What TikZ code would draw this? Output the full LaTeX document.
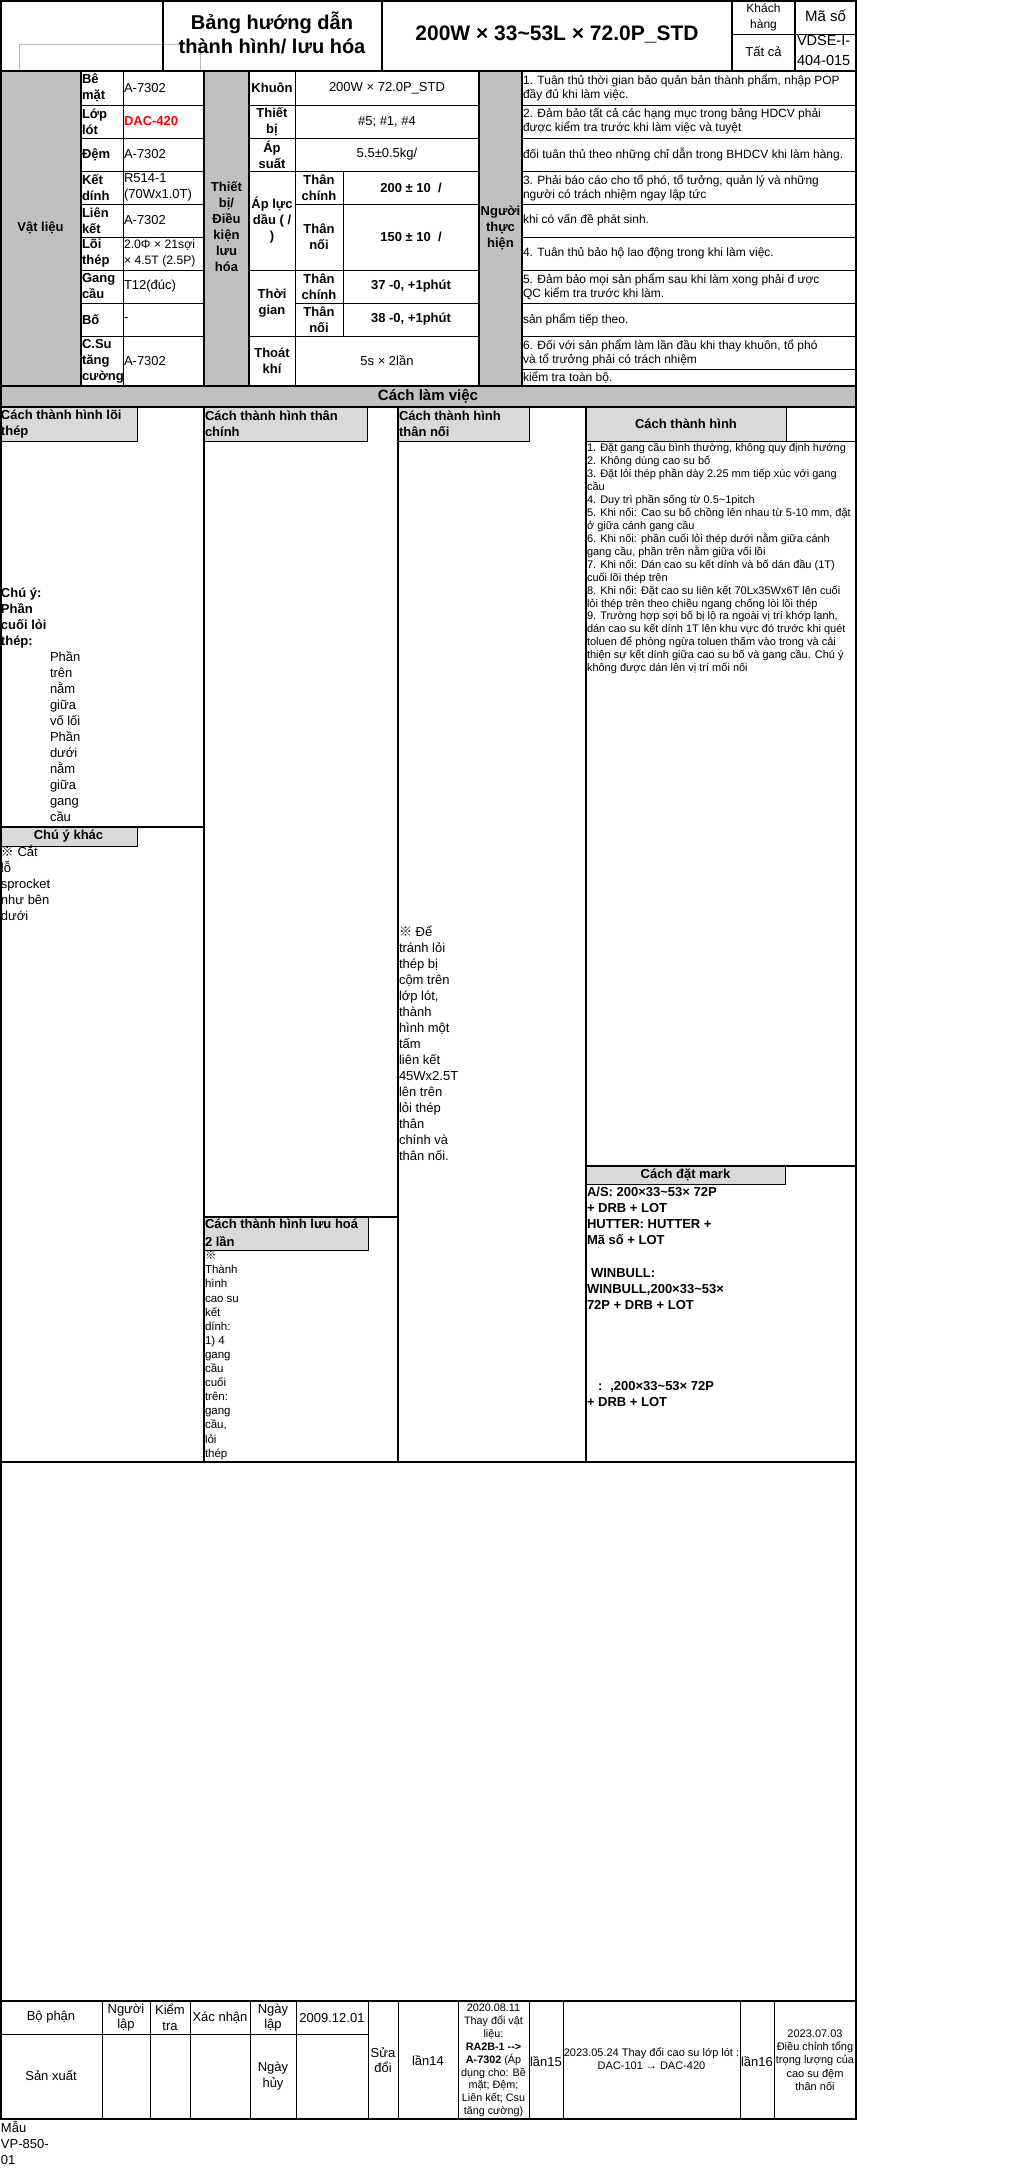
\documentclass[tikz,border=0pt]{standalone}
\usepackage{fontspec}
\setmainfont{Liberation Sans}
\newfontfamily\cjkf{Noto Sans CJK JP}
\newcommand\refmark{{\cjkf ※}}
\definecolor{gdark}{RGB}{192,192,192}
\definecolor{glight}{RGB}{217,217,217}
\definecolor{grline}{RGB}{185,185,185}
\newcommand\stk[6]{\foreach \myline [count=\myi from 0] in {#6} {\node[T,anchor=base west,#5] (#1\myi) at (#2,{#3+\myi*#4}) {\myline};}}
\begin{document}
\begin{tikzpicture}[x=1pt,y=-1pt,
 T/.style={inner sep=0pt,outer sep=0pt},
 lwa/.style={line width=1pt},
 lwb/.style={line width=2pt},
 fa/.style={font=\fontsize{13}{16}\selectfont},
 fab/.style={font=\fontsize{13}{16}\selectfont\bfseries},
 fr/.style={font=\fontsize{12}{14}\selectfont},
 fs/.style={font=\fontsize{11}{13}\selectfont},
 fss/.style={font=\fontsize{11.5}{14.1}\selectfont},
 fb/.style={font=\fontsize{13}{15.5}\selectfont},
 fsm/.style={font=\fontsize{11}{13.3}\selectfont},
 fsn/.style={font=\fontsize{10.8}{12.9}\selectfont},
 ctr/.style={T,align=center,anchor=center},
 lft/.style={T,align=left,anchor=west},
]
\useasboundingbox (0,0) rectangle (1024,2169);
\fill[white] (0,0) rectangle (1024,2169);
% ---------- fills
\fill[gdark] (0,71) rectangle (81,386);
\fill[gdark] (204,71) rectangle (249,386);
\fill[gdark] (479,71) rectangle (522,386);
\fill[gdark] (0,386) rectangle (856,407);
\filldraw[fill=glight,lwa] (0,407) rectangle (137,441);
\filldraw[fill=glight,lwa] (204,407) rectangle (367,441);
\filldraw[fill=glight,lwa] (398,407) rectangle (529,441);
\filldraw[fill=glight,lwa] (586,407) rectangle (786,441);
\draw[lwa] (786,441) -- (856,441);
\filldraw[fill=glight,lwa] (0,827) rectangle (137,846);
\filldraw[fill=glight,lwa] (204,1217) rectangle (368,1250);
\filldraw[fill=glight,lwa] (586,1166) rectangle (785,1184);
% ---------- header
\draw[grline,lwa] (19,71) -- (19,44) -- (200,44) -- (200,71);
\draw[lwb] (163,1) -- (163,71) (382,1) -- (382,71);
\draw[line width=1.5pt] (732,1) -- (732,71) (795,1) -- (795,71);
\draw[lwa] (732,34) -- (856,34);
% ---------- upper table lines
\foreach \yy in {105,138,171,204,237,270,303,336} \draw[lwa] (81,\yy) -- (204,\yy);
\foreach \yy in {105,138,171,270,336} \draw[lwa] (249,\yy) -- (479,\yy);
\foreach \yy in {204,303} \draw[lwa] (295,\yy) -- (479,\yy);
\foreach \yy in {105,138,171,204,237,270,303,336,369} \draw[lwa] (522,\yy) -- (856,\yy);
\draw[lwa] (123,71) -- (123,386) (295,71) -- (295,386) (343,171) -- (343,336);
\foreach \xx in {81,204,249,479,522} \draw[lwb] (\xx,71) -- (\xx,386);
\foreach \yy in {71,386,407} \draw[lwb] (0,\yy) -- (856,\yy);
% ---------- working section lines
\foreach \xx in {204,398,586} \draw[lwb] (\xx,407) -- (\xx,1462);
\draw[lwb] (0,827) -- (204,827) (204,1217) -- (398,1217) (586,1166) -- (856,1166) (0,1462) -- (856,1462);
% ---------- bottom table lines
\draw[lwb] (0,2001) -- (856,2001);
\draw[lwa] (0,2034) -- (368,2034);
\foreach \xx in {102,150,190,250,296,368,398,458,529,563,740,774} \draw[lwa] (\xx,2001) -- (\xx,2119);
% ---------- outer frame
\draw[lwb] (1,1) rectangle (856,2119);
% ---------- header texts
\node[ctr,font=\fontsize{20}{24}\selectfont\bfseries] (title) at (272,33) {Bảng hướng dẫn\\thành hình/ lưu hóa};
\node[ctr,font=\fontsize{21}{24}\selectfont\bfseries] (model) at (557,34) {200W × 33\textasciitilde53L × 72.0P\_STD};
\node[ctr,font=\fontsize{12}{16}\selectfont] (kh) at (763.5,17) {Khách\\hàng};
\node[ctr,font=\fontsize{15}{18}\selectfont] (ms) at (825.5,16) {Mã số};
\node[ctr,fa] (tc) at (763.5,52) {Tất cả};
\node[lft,font=\fontsize{14.5}{20}\selectfont] (code) at (797,51) {VDSE-I-\\404-015};
% ---------- materials
\node[ctr,fab] (vl) at (40.5,228) {Vật liệu};
\node[lft,fab] (l1) at (82,88) {Bê\\mặt};
\node[lft,fab] (l2) at (82,121.5) {Lớp\\lót};
\node[lft,fab] (l3) at (82,154.5) {Đệm};
\node[lft,fab] (l4) at (82,187.5) {Kết\\dính};
\node[lft,fab] (l5) at (82,220.5) {Liên\\kết};
\node[lft,fab] (l6) at (82,253.5) {Lõi\\thép};
\node[lft,fab] (l7) at (82,286.5) {Gang\\cầu};
\node[lft,fab] (l8) at (82,319.5) {Bố};
\node[lft,fab] (l9) at (82,361) {C.Su\\tăng\\cường};
\node[lft,fa] (v1) at (124,88) {A-7302};
\node[lft,fab,text=red] (v2) at (124,121.5) {DAC-420};
\node[lft,fa] (v3) at (124,154.5) {A-7302};
\node[lft,fa] (v4) at (124,187.5) {R514-1\\(70Wx1.0T)};
\node[lft,fa] (v5) at (124,220.5) {A-7302};
\node[lft,font=\fontsize{12.2}{16}\selectfont] (v6) at (124,253.5) {2.0Φ × 21sợi\\× 4.5T (2.5P)};
\node[lft,fa] (v7) at (124,286.5) {T12(đúc)};
\node[lft,fa] (v8) at (124,319.5) {-};
\node[lft,fa] (v9) at (124,361) {A-7302};
% ---------- equipment / conditions
\node[ctr,fab] (tb) at (226.5,227) {Thiết\\bị/\\Điều\\kiện\\lưu\\hóa};
\node[ctr,fab] (m1) at (272,88) {Khuôn};
\node[ctr,fab] (m2) at (272,121.5) {Thiết\\bị};
\node[ctr,fab] (m3) at (272,154.5) {Áp\\suất};
\node[ctr,fab] (m4) at (272,220.5) {Áp lực\\dầu ( /\\)};
\node[ctr,fab] (m5) at (272,303) {Thời\\gian};
\node[ctr,fab] (m6) at (272,361) {Thoát\\khí};
\node[ctr,fab] (s1) at (319,187.5) {Thân\\chính};
\node[ctr,fab] (s2) at (319,237) {Thân\\nối};
\node[ctr,fab] (s3) at (319,286.5) {Thân\\chính};
\node[ctr,fab] (s4) at (319,319.5) {Thân\\nối};
\node[ctr,fa] (w1) at (387,88) {200W × 72.0P\_STD};
\node[ctr,fa] (w2) at (387,121.5) {\#5; \#1, \#4};
\node[ctr,fa] (w3) at (387,154.5) {5.5±0.5kg/};
\node[ctr,fab] (w4) at (411,187.5) {200 ± 10\ \ /};
\node[ctr,fab] (w5) at (411,237) {150 ± 10\ \ /};
\node[ctr,fab] (w6) at (411,286.5) {37 -0, +1phút};
\node[ctr,fab] (w7) at (411,319.5) {38 -0, +1phút};
\node[ctr,fa] (w8) at (387,361) {5s × 2lần};
% ---------- operator rules
\node[ctr,fab] (nth) at (500.5,228) {Người\\thực\\hiện};
\node[lft,fr] (r1) at (523,88) {1. Tuân thủ thời gian bảo quản bản thành phẩm, nhập POP\\đầy đủ khi làm việc.};
\node[lft,fr] (r2) at (523,121.5) {2. Đảm bảo tất cả các hạng mục trong bảng HDCV phải\\được kiểm tra trước khi làm việc và tuyệt};
\node[lft,fr] (r3) at (523,154.5) {đối tuân thủ theo những chỉ dẫn trong BHDCV khi làm hàng.};
\node[lft,fr] (r4) at (523,187.5) {3. Phải báo cáo cho tổ phó, tổ tưởng, quản lý và những\\người có trách nhiệm ngay lập tức};
\node[lft,fr] (r5) at (523,220.5) {khi có vấn đề phát sinh.};
\node[lft,fr] (r6) at (523,253.5) {4. Tuân thủ bảo hộ lao động trong khi làm việc.};
\node[lft,fr] (r7) at (523,286.5) {5. Đảm bảo mọi sản phẩm sau khi làm xong phải đ ược\\QC kiểm tra trước khi làm.};
\node[lft,fr] (r8) at (523,319.5) {sản phẩm tiếp theo.};
\node[lft,fr] (r9) at (523,352.5) {6. Đối với sản phẩm làm lần đầu khi thay khuôn, tổ phó\\và tổ trưởng phải có trách nhiệm};
\node[lft,fr] (r10) at (523,377.5) {kiểm tra toàn bộ.};
% ---------- working method
\node[ctr,font=\fontsize{15}{18}\selectfont\bfseries] (clv) at (428,396.5) {Cách làm việc};
\node[lft,fab] (h1) at (1,424) {Cách thành hình lõi\\thép};
\node[lft,fab] (h2) at (205,424) {Cách thành hình thân\\chính};
\node[lft,fab] (h3) at (399,424) {Cách thành hình\\thân nối};
\node[ctr,fab] (h4) at (686,424) {Cách thành hình};
\stk{li}{587}{451.5}{12.96}{fs}{1. Đặt gang cầu bình thường{,} không quy định hướng,2. Không dùng cao su bố,3. Đặt lỏi thép phần dày 2.25 mm tiếp xúc với gang,cầu,4. Duy trì phần sống từ 0.5\textasciitilde1pitch,{5. Khi nối: Cao su bố chồng lên nhau từ 5-10 mm, đặt},ở giữa cánh gang cầu,6. Khi nối: phần cuối lỏi thép dưới nằm giữa cánh,{gang cầu, phần trên nằm giữa vối lồi},7. Khi nối: Dán cao su kết dính và bố dán đầu (1T),cuối lõi thép trên,8. Khi nối: Đặt cao su liên kết 70Lx35Wx6T lên cuối,lỏi thép trên theo chiều ngang chống lòi lõi thép,{9. Trường hợp sợi bố bị lộ ra ngoài vị trí khớp lạnh,},dán cao su kết dính 1T lên khu vực đó trước khi quét,toluen để phòng ngừa toluen thấm vào trong và cải,thiện sự kết dính giữa cao su bố và gang cầu. Chú ý,không được dán lên vị trí mối nối}
\stk{cy}{1}{597.5}{16}{fab}{Chú ý:,Phần,cuối lỏi,thép:}
\stk{cz}{50}{661.5}{16}{fa}{Phần,trên,nằm,giữa,vố lối,Phần,dưới,nằm,giữa,gang,cầu}
\node[ctr,fab] (cyk) at (68.5,836.5) {Chú ý khác};
\stk{ck}{1}{856.5}{16}{fa}{\refmark\ Cắt,lỗ,sprocket,như bên,dưới}
\stk{tn}{399}{936.5}{16}{fa}{\refmark\ Để,tránh lỏi,thép bị,cộm trên,{lớp lót,},thành,hình một,tấm,liên kết,45Wx2.5T,lên trên,lỏi thép,thân,chính và,thân nối.}
\node[lft,font=\fontsize{13}{17.7}\selectfont\bfseries] (h5) at (205,1233) {Cách thành hình lưu hoá\\2 lần};
\stk{lh}{205}{1259.7}{14.1}{fss}{\refmark,Thành,hình,cao su,kết,dính:,1) 4,gang,cầu,cuối,trên:,gang,{cầu,},lỏi,thép}
\node[ctr,fab] (cdm) at (685.5,1175) {Cách đặt mark};
\stk{mk}{587}{1196.2}{16.2}{fab}{A/S: 200×33\textasciitilde53× 72P,+ DRB + LOT,HUTTER: HUTTER +,Mã số + LOT,{},\hspace{4pt}WINBULL:,{WINBULL,200×33\textasciitilde53×},72P + DRB + LOT,{},{},{},{},\hspace{11pt}:\hspace{8pt}{,}200×33\textasciitilde53× 72P,+ DRB + LOT}
% ---------- bottom table texts
\node[ctr,fb] (b1) at (51,2017.5) {Bộ phận};
\node[ctr,fb] (b2) at (126,2017.5) {Người\\lập};
\node[ctr,fb] (b3) at (170,2017.5) {Kiểm\\tra};
\node[ctr,fb] (b4) at (220,2017.5) {Xác nhận};
\node[ctr,fb] (b5) at (273,2017.5) {Ngày\\lập};
\node[ctr,fb] (b6) at (332,2017.5) {2009.12.01};
\node[ctr,fb] (b7) at (51,2076) {Sản xuất};
\node[ctr,fb] (b8) at (273,2076) {Ngày\\hủy};
\node[ctr,fb] (b9) at (383,2060) {Sửa\\đổi};
\node[ctr,fb] (b10) at (428,2061) {lần14};
\node[ctr,fsn] (b11) at (493.5,2060.5) {2020.08.11\\Thay đổi vật\\liệu:\\\textbf{RA2B-1 -{}->}\\\textbf{A-7302} (Áp\\dụng cho: Bề\\mặt; Đệm;\\Liên kết; Csu\\tăng cường)};
\node[ctr,fb] (b12) at (546,2062) {lần15};
\node[ctr,fsm] (b13) at (651.5,2058.5) {2023.05.24 Thay đổi cao su lớp lót :\\DAC-101 → DAC-420};
\node[ctr,fb] (b14) at (757,2062) {lần16};
\node[ctr,fsm] (b15) at (815,2060) {2023.07.03\\Điều chỉnh tổng\\trọng lượng của\\cao su đệm\\thân nối};
\stk{mau}{1}{2132.5}{16}{fa}{Mẫu,VP-850-,01}
\end{tikzpicture}
\end{document}
